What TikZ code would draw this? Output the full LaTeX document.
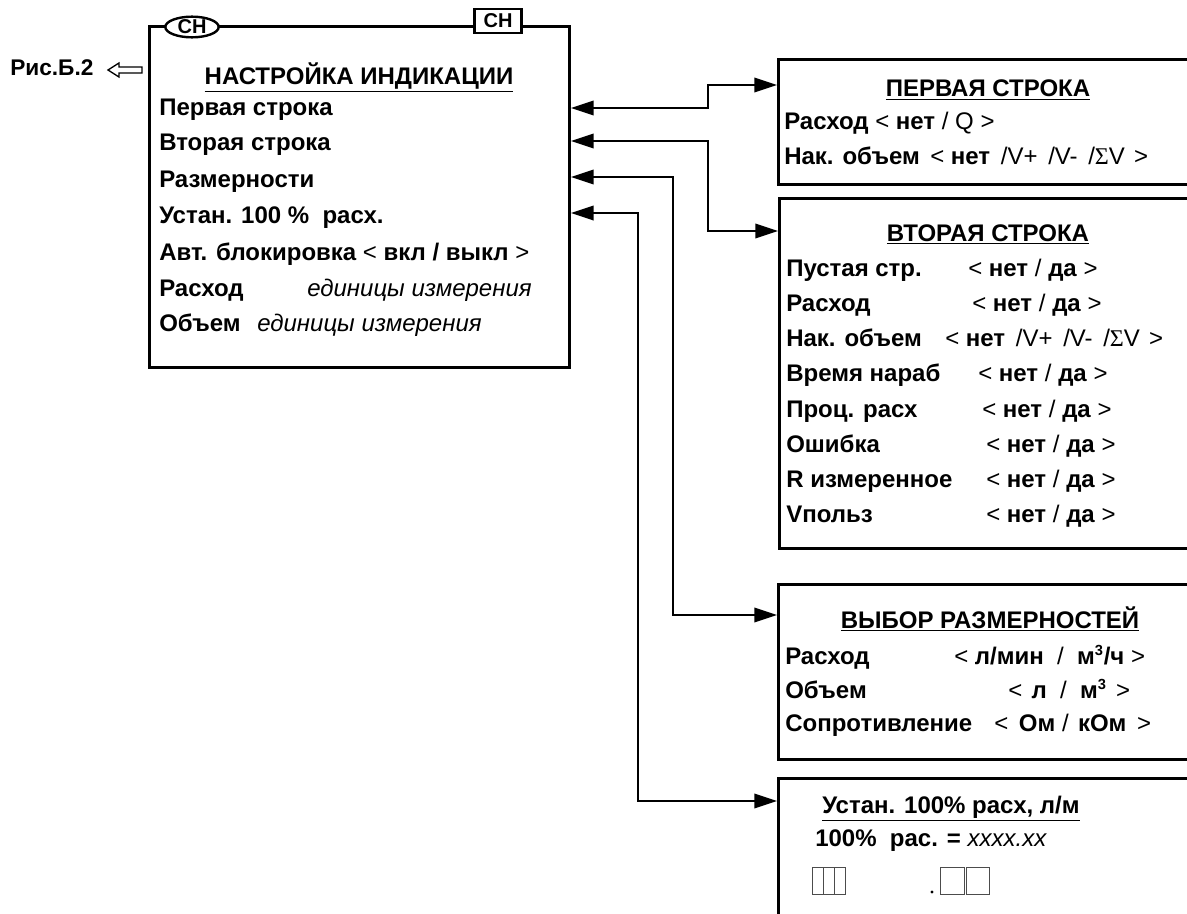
\documentclass[tikz,border=0pt]{standalone}
\usepackage{fontspec}
\setmainfont{Liberation Sans}
\newfontfamily\symf{Liberation Serif}
\usetikzlibrary{arrows.meta,shapes.geometric}
\newcommand{\rg}[1]{{\mdseries #1}}
\newcommand{\itl}[1]{{\mdseries\itshape #1}}
\newcommand{\sumv}{\rg{<} нет\hspace{3pt} \rg{/V+\hspace{3pt} /V-\hspace{3pt} /}{\mdseries\symf Σ}\rg{V\hspace{2pt} >}}
\begin{document}
\begin{tikzpicture}[x=0.75pt,y=-0.75pt,
  font=\bfseries\fontsize{18}{20}\selectfont,
  box/.style={draw, line width=2.2pt, inner sep=0pt, anchor=north west},
  lbl/.style={anchor=base west, inner sep=0pt},
  ttl/.style={anchor=base, inner sep=0pt},
  small/.style={font=\bfseries\fontsize{15}{16}\selectfont},
  conn/.style={line width=1.1pt, {Triangle[length=17pt,width=11pt]}-{Triangle[length=17pt,width=11pt]}},
  cell/.style={draw=black!70, line width=0.6pt}]
\fill[white] (0,0) rectangle (1187,913);
\useasboundingbox (0,0) rectangle (1187,913);
\clip (0,0) rectangle (1187,913);

% left box
\node[box, minimum width=315pt, minimum height=255.75pt] (L) at (148,25) {};
\node[draw, ellipse, fill=white, line width=1.8pt, minimum width=40pt, minimum height=15.5pt, inner sep=0pt, small] (e) at (192,27) {СН};
\node[draw, fill=white, line width=1.8pt, minimum width=35pt, minimum height=18pt, inner sep=0pt, small] (r) at (498,21) {СН};

\node[lbl, font=\bfseries\fontsize{17}{18}\selectfont] (ris) at (10,76) {Рис.Б.2};
\draw[line width=1pt] (108,70) -- (119,63) -- (119,67) -- (142,67) -- (142,73) -- (119,73) -- (119,77) -- cycle;

\node[ttl] (t0) at (359,85) {\underline{НАСТРОЙКА ИНДИКАЦИИ}};
\node[lbl] (r1) at (159,116) {Первая строка};
\node[lbl] (r2) at (159,151) {Вторая строка};
\node[lbl] (r3) at (159,187) {Размерности};
\node[lbl] (r4) at (159,223) {Устан. 100 \%\ \ расх.};
\node[lbl] (r5) at (159,260) {Авт. блокировка \rg{<} вкл / выкл \rg{>}};
\node[lbl] (r6) at (159,296) {Расход};
\node[lbl] (r6v) at (307,296) {\itl{единицы измерения}};
\node[lbl] (r7) at (159,331) {Объем};
\node[lbl] (r7v) at (257,331) {\itl{единицы измерения}};

% box 1
\node[box, minimum width=330pt, minimum height=93.75pt] (b1) at (777,58) {};
\node[ttl] (b1t) at (988,97) {\underline{ПЕРВАЯ СТРОКА}};
\node[lbl] (b1a) at (784,130) {Расход};
\node[lbl] (b1av) at (875,130) {\rg{<} нет \rg{/ Q >}};
\node[lbl] (b1b) at (784,164) {Нак. объем};
\node[lbl] (b1bv) at (930,164) {\sumv};

% box 2
\node[box, minimum width=330pt, minimum height=262.5pt] (b2) at (778,197) {};
\node[ttl] (b2t) at (988,241) {\underline{ВТОРАЯ СТРОКА}};
\node[lbl] (s1) at (786,276) {Пустая стр.};
\node[lbl] (s1v) at (968,276) {\rg{<} нет \rg{/} да \rg{>}};
\node[lbl] (s2) at (786,311) {Расход};
\node[lbl] (s2v) at (972,311) {\rg{<} нет \rg{/} да \rg{>}};
\node[lbl] (s3) at (786,346) {Нак. объем};
\node[lbl] (s3v) at (945,346) {\sumv};
\node[lbl] (s4) at (786,381) {Время нараб};
\node[lbl] (s4v) at (978,381) {\rg{<} нет \rg{/} да \rg{>}};
\node[lbl] (s5) at (786,417) {Проц. расх};
\node[lbl] (s5v) at (982,417) {\rg{<} нет \rg{/} да \rg{>}};
\node[lbl] (s6) at (786,452) {Ошибка};
\node[lbl] (s6v) at (986,452) {\rg{<} нет \rg{/} да \rg{>}};
\node[lbl] (s7) at (786,487) {R измеренное};
\node[lbl] (s7v) at (986,487) {\rg{<} нет \rg{/} да \rg{>}};
\node[lbl] (s8) at (786,522) {Vпольз};
\node[lbl] (s8v) at (986,522) {\rg{<} нет \rg{/} да \rg{>}};

% box 3
\node[box, minimum width=330pt, minimum height=131.25pt] (b3) at (777,583) {};
\node[ttl] (b3t) at (990,628) {\underline{ВЫБОР РАЗМЕРНОСТЕЙ}};
\node[lbl] (u1) at (785,664) {Расход};
\node[lbl] (u1v) at (954,664) {\rg{<} л/мин\ \ \rg{/}\ \ м\textsuperscript{\fontsize{11}{12}\selectfont 3}/ч \rg{>}};
\node[lbl] (u2) at (785,698) {Объем};
\node[lbl] (u2v) at (1008,698) {\rg{<}\hspace{2pt} л\ \ \rg{/}\ \ м\textsuperscript{\fontsize{11}{12}\selectfont 3}\hspace{2pt} \rg{>}};
\node[lbl] (u3) at (785,731) {Сопротивление};
\node[lbl] (u3v) at (994,731) {\rg{<}\hspace{3pt} Ом \rg{/}\hspace{2pt} кОм\hspace{3pt} \rg{>}};

% box 4
\node[box, minimum width=330pt, minimum height=140pt] (b4) at (777,777) {};
\node[lbl] (b4t) at (822,813) {\underline{Устан. 100\% расх, л/м}};
\node[lbl] (b4a) at (815,846) {100\%\ \ рас. = \itl{xxxx.xx}};
\draw[cell] (812,867) rectangle (845,894);
\draw[cell] (823,867) -- (823,894) (834,867) -- (834,894);
\fill (932,892) circle (1.6);
\draw[cell] (940,867) rectangle (964,894);
\draw[cell] (966,867) rectangle (989,894);

% connectors
\draw[conn] (b1.west|-0,85) -| (708,108) -- (L.east|-0,108);
\draw[conn] (b2.west|-0,231) -| (708,141) -- (L.east|-0,141);
\draw[conn] (b3.west|-0,615) -| (673,177) -- (L.east|-0,177);
\draw[conn] (b4.west|-0,801) -| (638,213) -- (L.east|-0,213);
\end{tikzpicture}
\end{document}
